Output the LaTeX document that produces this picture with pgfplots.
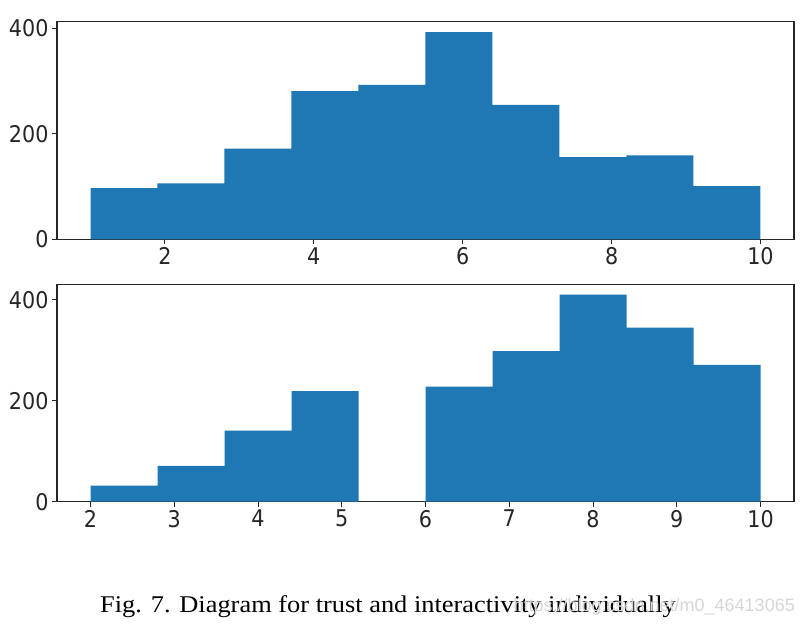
\documentclass[border=0pt]{standalone}
\usepackage{fontspec}
\setmainfont{Liberation Serif}
\newfontfamily\capfont[FakeStretch=1.1]{Liberation Serif}
\newfontfamily\tickfont[FakeStretch=0.9]{DejaVu Sans}
\newfontfamily\wmfont{Liberation Sans}
\usepackage{pgfplots}
\pgfplotsset{compat=1.18}
\definecolor{mplblue}{HTML}{1F77B4}
\pgfplotsset{
  hist/.style={
    scale only axis, width=737pt, height=217.6pt,
    anchor=south west,
    axis line style={line width=1.1pt, black!85},
    every tick/.style={black!85, line width=1pt},
    tick align=outside,
    xtick pos=bottom, ytick pos=left,
    major tick length=5pt,
    ymin=0,
    ytick={0,200,400},
    tick label style={font=\tickfont\fontsize{23}{23}\selectfont, text=black!85},
    /pgf/number format/assume math mode=true,
  }
}
\begin{document}
\begin{tikzpicture}
\useasboundingbox (0pt,0pt) rectangle (805pt,628pt);
\begin{axis}[hist, at={(57pt,388.7pt)}, xmin=0.55, xmax=10.45, ymax=412.7,
  xtick={2,4,6,8,10}]
\addplot[ybar interval, fill=mplblue, draw=none] coordinates {
(1.0,97) (1.9,106) (2.8,172) (3.7,281) (4.6,293) (5.5,393) (6.4,255) (7.3,156) (8.2,159) (9.1,101) (10.0,0)};
\end{axis}
\begin{axis}[hist, at={(57pt,126.3pt)}, xmin=1.6, xmax=10.4, ymax=431,
  xtick={2,3,4,5,6,7,8,9,10}]
\addplot[ybar interval, fill=mplblue, draw=none] coordinates {
(2.0,32) (2.8,71) (3.6,141) (4.4,219) (5.2,0) (6.0,228) (6.8,298) (7.6,410) (8.4,345) (9.2,271) (10.0,0)};
\end{axis}
\node[font=\capfont\fontsize{24}{24}\selectfont, anchor=base] at (388pt,15pt) {Fig. 7. Diagram for trust and interactivity individually};
\node[font=\wmfont\fontsize{18}{18}\selectfont, text=black!16, anchor=base east, inner sep=0pt] at (795pt,16pt) {https://blog.csdn.net/m0\_46413065};
\end{tikzpicture}
\end{document}
